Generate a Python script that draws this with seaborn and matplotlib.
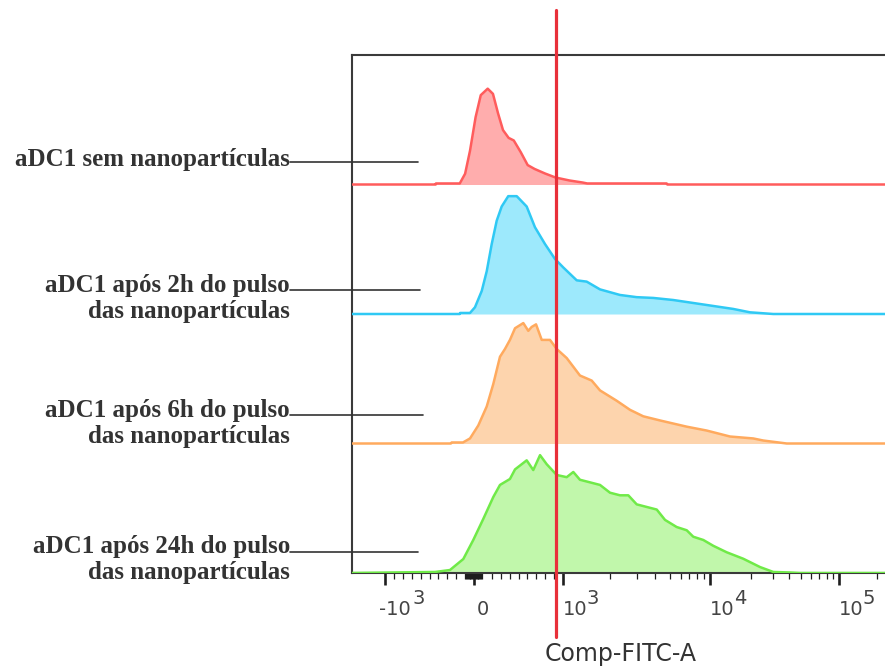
import numpy as np
import pandas as pd
import matplotlib
matplotlib.use("Agg")
import matplotlib.pyplot as plt
import seaborn as sns
from matplotlib.lines import Line2D

# ---------------------------------------------------------------------------
# Data: FITC intensity (x) and normalised event count (% of lane height)
# ---------------------------------------------------------------------------
LABELS = [
    ["aDC1 sem nanopartículas"],
    ["aDC1 após 2h do pulso", "das nanopartículas"],
    ["aDC1 após 6h do pulso", "das nanopartículas"],
    ["aDC1 após 24h do pulso", "das nanopartículas"],
]

RED_X = [-1400, -430, -428, -160, -100, -45, 18, 76, 154, 213, 270, 326, 389,
         447, 525, 603, 681, 798, 916, 1100, 1340, 1430, 4750, 4800, 262144]
RED_Y = [0, 0, 0.8, 0.8, 8.3, 26, 52, 69, 74, 70, 55, 42, 36,
         34, 25, 15, 12, 8.5, 5.4, 3.1, 1.5, 0.8, 0.8, 0, 0]

BLUE_X = [-1400, -160, -155, -45, 11, 87, 143, 199, 255, 311, 385, 480, 592,
          685, 798, 910, 1003, 1224, 1418, 1726, 2330, 3007, 3877, 5293, 7487,
          10573, 14830, 19660, 30100, 262144]
BLUE_Y = [0, 0, 0.8, 0.8, 5.2, 17.8, 33, 54, 72, 83, 91, 91, 83,
          67, 54, 42.5, 36, 26, 25, 19, 14.7, 13, 12.4, 10.8, 8.5,
          6.2, 3.9, 1.3, 0, 0]

ORANGE_X = [-1400, -260, -251, -124, -45, 48, 143, 217, 292, 348, 404, 461,
            554, 610, 648, 697, 761, 854, 929, 1056, 1284, 1527, 1726, 2216,
            2715, 3325, 4293, 6680, 9445, 14020, 20850, 25060, 35100, 38460,
            262144]
ORANGE_Y = [0, 0, 0.8, 0.8, 3.9, 13.9, 28.6, 46, 67, 73, 80, 89,
            93, 87, 90, 92, 80, 80, 73, 66, 52.5, 48.6, 41, 33,
            26, 21, 17.8, 13, 10, 5.4, 3.9, 2.3, 0.5, 0,
            0]

GREEN_X = [-1400, -438, -270, -120, -8, 104, 217, 292, 404, 461, 536, 592,
           666, 742, 817, 929, 1056, 1164, 1284, 1489, 1726, 2000, 2330, 2645,
           3007, 3503, 4083, 4634, 5614, 6680, 7487, 8906, 10573, 13265,
           17560, 23600, 30100, 40850, 49000, 262144]
GREEN_Y = [0, 0.8, 2.3, 10.8, 25.5, 41.7, 58.7, 68, 72.6, 80, 84, 87,
           79.5, 91, 84, 75.7, 74, 78, 72, 70, 68, 62, 60, 60,
           53, 51, 49, 41, 35.5, 33, 28, 25.5, 21, 16,
           11, 4.6, 0.8, 0.4, 0, 0]

GATE = 920  # FITC threshold marker

TICK_VALUES = [-1000, 0, 1000, 10000, 100000]
TICK_BASES = ["-10", "0", "10", "10", "10"]
TICK_EXPONENTS = ["3", "", "3", "4", "5"]
MINOR_TICKS = ([-v for v in range(100, 1000, 100)] + list(range(-90, 100, 10))
               + list(range(200, 1000, 100)) + list(range(2000, 10000, 1000))
               + list(range(20000, 100000, 10000)) + [200000])

X_LABEL = "Comp-FITC-A"

FILLS = ["#FFADAD", "#9DE9FC", "#FDD4AD", "#C1F7AB"]
EDGES = ["#FF5C5C", "#2FC9F4", "#FFAA5E", "#70EA48"]

# ---------------------------------------------------------------------------
# Biexponential-like display scale (linear around zero, log per decade)
# ---------------------------------------------------------------------------
_L2, _L5 = np.log10(2), np.log10(5)
G_KNOTS = np.array([-3, -1, 0, 1, 1 + _L2, 1 + _L5, 2, 2 + _L2, 2 + _L5, 3, 3 + _L2, 4])
P_KNOTS = np.array([-97, 385, 474, 563, 610, 670, 710, 751, 801, 839, 877, 966], float)


def _to_g(x):
    x = np.asarray(x, float)
    a = np.abs(x)
    return np.where(a <= 1000, x / 1000.0,
                    np.sign(x) * (1 + np.log10(np.maximum(a, 1e-9) / 1000.0)))


def _from_g(g):
    g = np.asarray(g, float)
    a = np.abs(g)
    return np.where(a <= 1, g * 1000.0, np.sign(g) * 1000.0 * 10 ** (np.maximum(a, 1) - 1))


def forward(x):
    return np.interp(_to_g(x), G_KNOTS, P_KNOTS)


def inverse(p):
    return _from_g(np.interp(np.asarray(p, float), P_KNOTS, G_KNOTS))


# ---------------------------------------------------------------------------
sns.set_theme(style="white")
plt.rcParams["font.family"] = ["DejaVu Sans"]

fig = plt.figure(figsize=(8.85, 6.69), dpi=100, facecolor="white")
W, H = 885.0, 669.0
ax = fig.add_axes([352 / W, 96 / H, 533 / W, 518 / H])
ax.set_xscale("function", functions=(forward, inverse))
ax.set_xlim(float(inverse(352)), float(inverse(885)))
ax.set_ylim(0, 4)

series = [(RED_X, RED_Y), (BLUE_X, BLUE_Y), (ORANGE_X, ORANGE_Y), (GREEN_X, GREEN_Y)]
for i, (xs, ys) in enumerate(series):
    base = 3 - i
    xs = np.asarray(xs, float)
    top = base + np.asarray(ys, float) / 100.0
    ax.fill_between(xs, base, top, color=FILLS[i], lw=0, zorder=2)
    df = pd.DataFrame({"x": xs, "y": top})
    sns.lineplot(data=df, x="x", y="y", ax=ax, color=EDGES[i], lw=1.8,
                 sort=False, estimator=None, zorder=3,
                 solid_joinstyle="round", solid_capstyle="round")

ax.axvline(GATE, ymin=(573 - 637) / 518, ymax=(573 - 10) / 518,
           color="#E8303A", lw=2.3, clip_on=False, zorder=10)

# axis frame
for side in ["left", "top", "bottom"]:
    ax.spines[side].set_color("#3a3a3a")
    ax.spines[side].set_linewidth(1.5)
ax.spines["right"].set_visible(False)

ax.set_yticks([])
ax.set_ylabel("")
ax.set_xlabel("")
ax.set_xticks(TICK_VALUES)
ax.set_xticklabels([""] * len(TICK_VALUES))
ax.set_xticks(MINOR_TICKS, minor=True)
ax.tick_params(axis="x", which="both", bottom=True, direction="out", color="#1e1e1e")
ax.tick_params(axis="x", which="major", length=8.5, width=1.9)
ax.tick_params(axis="x", which="minor", length=4.3, width=0.9)

# tick labels with full-size exponents
xt = ax.get_xaxis_transform()
px = 72 / 100.0
TICK_FS = 14
for v, b, e in zip(TICK_VALUES, TICK_BASES, TICK_EXPONENTS):
    if b == "0":
        ax.annotate(b, xy=(v, 0), xycoords=xt, xytext=(9 * px, -42 * px),
                    textcoords="offset points", ha="center", va="baseline",
                    fontsize=TICK_FS, color="#444444")
        continue
    dx = -6 if b.startswith("-") else 0
    ax.annotate(b, xy=(v, 0), xycoords=xt, xytext=(dx * px, -42 * px),
                textcoords="offset points", ha="left", va="baseline",
                fontsize=TICK_FS, color="#444444")
    ex = 28 if b.startswith("-") else 24
    ax.annotate(e, xy=(v, 0), xycoords=xt, xytext=(ex * px, -31 * px),
                textcoords="offset points", ha="left", va="baseline",
                fontsize=TICK_FS, color="#444444")

fig.text(621 / W, 1 - 661 / H, X_LABEL, ha="center", va="baseline",
         fontsize=17, color="#333333")

# sample labels with leader lines
label_rows = [(166, None, 162, 418), (292, 318, 290, 420),
              (417, 443, 415, 423), (553, 579, 552, 418)]
for lines, (b1, b2, ly, lx) in zip(LABELS, label_rows):
    fig.text(290 / W, 1 - b1 / H, lines[0], ha="right", va="baseline",
             fontsize=18, fontweight="bold", family=["Liberation Serif"], color="#333333")
    if len(lines) > 1:
        fig.text(290 / W, 1 - b2 / H, lines[1], ha="right", va="baseline",
                 fontsize=18, fontweight="bold", family=["Liberation Serif"], color="#333333")
    fig.add_artist(Line2D([290 / W, lx / W], [1 - ly / H, 1 - ly / H],
                          transform=fig.transFigure, color="#333333", lw=1.2))

fig.savefig("out.png", dpi=100, facecolor="white")
